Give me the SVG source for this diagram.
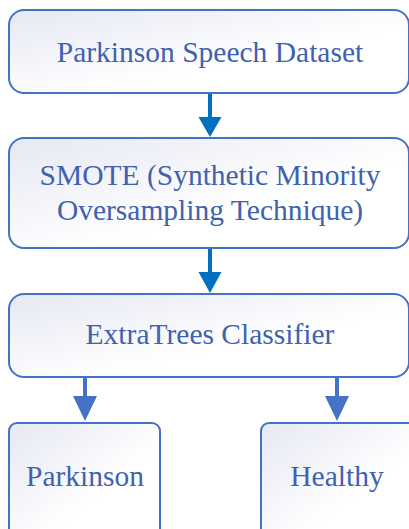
<svg xmlns="http://www.w3.org/2000/svg" width="409" height="529" viewBox="0 0 409 529">
<defs>
<linearGradient id="g" x1="0" y1="0" x2="1" y2="1">
<stop offset="0" stop-color="#E6E8F3"/>
<stop offset="0.6" stop-color="#FFFFFF"/>
<stop offset="1" stop-color="#FFFFFF"/>
</linearGradient>
<style>
.box{fill:url(#g);stroke:#4472C4;stroke-width:2}
.t{font-family:"Liberation Serif","Times New Roman",serif;font-size:29.5px;fill:#3F62AE;text-anchor:middle}
.s1{stroke:#0070C0;stroke-width:4;fill:none}
.h1{fill:#0070C0}
.s2{stroke:#4472C4;stroke-width:4;fill:none}
.h2{fill:#4472C4}
</style>
</defs>
<rect width="409" height="529" fill="#FFFFFF"/>
<g id="connectors">
<line class="s1" x1="210" y1="93" x2="210" y2="119"/>
<polygon class="h1" points="198.5,117 221.5,117 210,137"/>
<line class="s1" x1="210" y1="248" x2="210" y2="274"/>
<polygon class="h1" points="198.5,272 221.5,272 210,293"/>
<line class="s2" x1="85" y1="377" x2="85" y2="398"/>
<polygon class="h2" points="73,396 97,396 85,421"/>
<line class="s2" x1="337" y1="377" x2="337" y2="398"/>
<polygon class="h2" points="325,396 349,396 337,421"/>
</g>
<g id="n1">
<rect class="box" x="9" y="10" width="400" height="83" rx="15"/>
<text class="t" x="210" y="61.5">Parkinson Speech Dataset</text>
</g>
<g id="n2">
<rect class="box" x="9" y="138" width="400" height="110" rx="15"/>
<text class="t" x="210" y="185">SMOTE (Synthetic Minority</text>
<text class="t" x="210" y="219.5">Oversampling Technique)</text>
</g>
<g id="n3">
<rect class="box" x="9" y="294" width="400" height="83" rx="15"/>
<text class="t" x="210" y="344">ExtraTrees Classifier</text>
</g>
<g id="n4">
<rect class="box" x="9" y="423" width="151" height="120" rx="8"/>
<text class="t" x="85" y="486">Parkinson</text>
</g>
<g id="n5">
<rect class="box" x="261" y="423" width="160" height="120" rx="8"/>
<text class="t" x="337" y="486">Healthy</text>
</g>
</svg>
